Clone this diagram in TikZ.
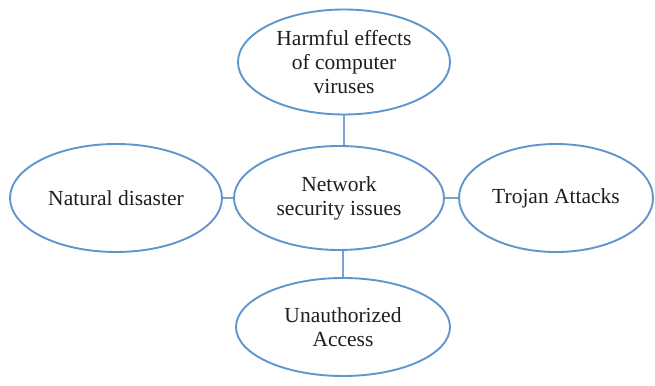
\documentclass[tikz,border=0pt]{standalone}
\usepackage{fontspec}
\setmainfont{Liberation Serif}
\usetikzlibrary{shapes.geometric}
\definecolor{rim}{RGB}{95,150,205}
\definecolor{ink}{RGB}{30,30,30}
\tikzset{
  topic/.style={ellipse, draw=rim, line width=1.9pt, fill=white, inner sep=0pt,
    text=ink, align=center, font=\fontsize{21.5}{24}\selectfont},
  link/.style={draw=rim!85, line width=1.2pt}
}
\begin{document}
\begin{tikzpicture}[x=1pt,y=1pt]
  \useasboundingbox (0,0) rectangle (655,385);
  \node[topic, minimum width=212pt, minimum height=105pt] (harm) at (344,323) {Harmful effects\\of computer\\viruses};
  \node[topic, minimum width=210pt, minimum height=104pt] (core) at (339,187) {Network\\security issues};
  \node[topic, minimum width=212pt, minimum height=108pt] (nat) at (116,187) {Natural disaster};
  \node[topic, minimum width=194pt, minimum height=108pt] (troj) at (556,187) {Trojan Attacks};
  \node[topic, minimum width=214pt, minimum height=98pt] (unauth) at (343,58) {Unauthorized\\Access};
  \draw[link] (harm.south) -- (harm.south |- core.north);
  \draw[link] (unauth.north) -- (unauth.north |- core.south);
  \draw[link] (nat.east) -- (core.west);
  \draw[link] (core.east) -- (troj.west);
\end{tikzpicture}
\end{document}
